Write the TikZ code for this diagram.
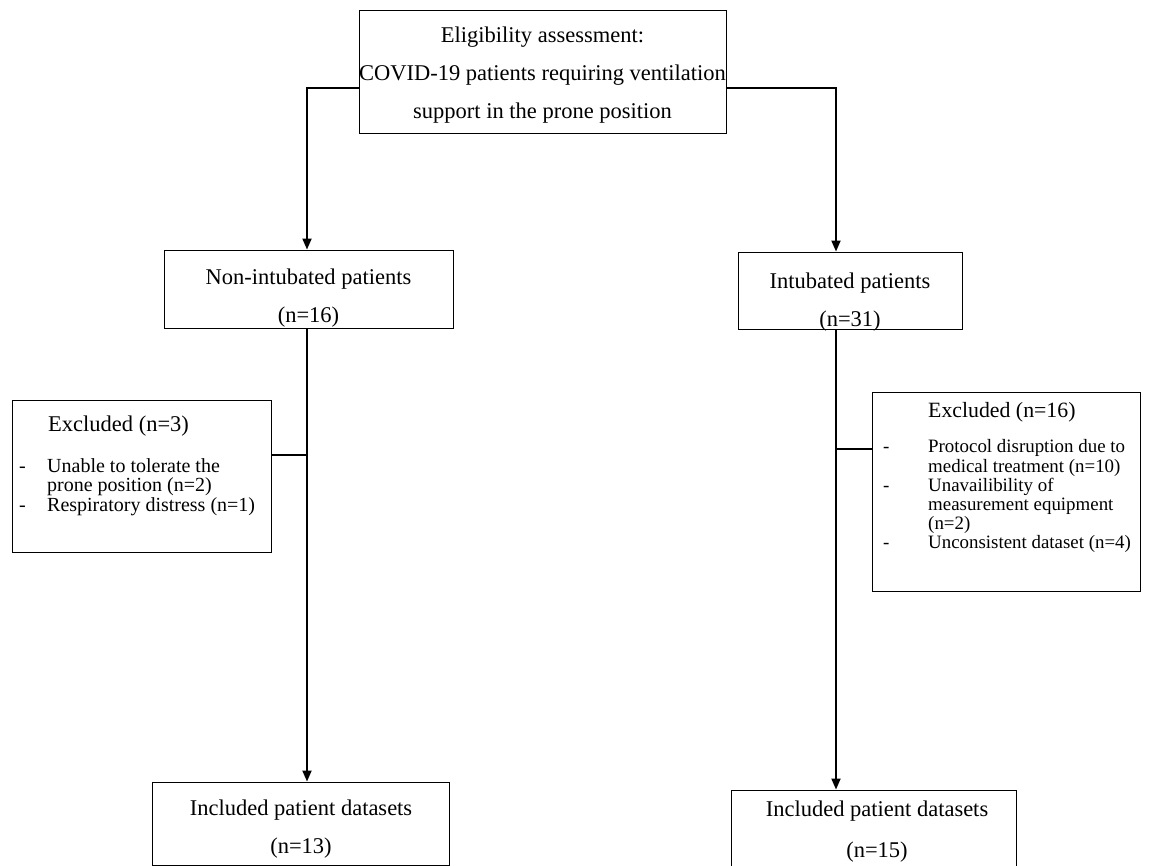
\documentclass[tikz,border=0pt]{standalone}
\usepackage{fontspec}
\setmainfont{Liberation Serif}
\usetikzlibrary{arrows.meta,calc}
\tikzset{
  frame/.style={draw=black,line width=.9pt,inner sep=0pt},
  link/.style={draw=black,line width=1.9pt},
  linkarrow/.style={link,-{Triangle[length=11pt,width=9pt]}},
  boxtext/.style={font=\fontsize{22.5}{38}\selectfont,align=center,inner sep=0pt},
  headtext/.style={font=\fontsize{22.5}{26}\selectfont,inner sep=0pt,anchor=base west},
  listtext/.style={font=\fontsize{20}{19.5}\selectfont,inner sep=0pt,anchor=base west}
}
% box from its corners: name, x1, y1, x2, y2
\newcommand{\FrameBox}[5]{%
  \node[frame,minimum width={#4-#2},minimum height={#5-#3}] (#1)
    at ({(#2+#4)/2},{(#3+#5)/2}) {};
}

\begin{document}
\begin{tikzpicture}[x=1pt,y=-1pt]
  \useasboundingbox (0,0) rectangle (1149,866);
  \FrameBox{elig}{359}{10}{726}{133}
  \FrameBox{nonint}{164}{250}{453}{328}
  \FrameBox{intub}{738}{252}{962}{329}
  \FrameBox{exclA}{12}{400}{271}{552}
  \FrameBox{exclB}{872}{392}{1140}{591}
  \FrameBox{inclA}{152}{782}{449}{865}
  \FrameBox{inclB}{731}{790}{1016}{866}

  \node[boxtext] (elig-text) at (542.5,75)
    {Eligibility assessment:\\COVID-19 patients requiring ventilation\\support in the prone position};
  \node[boxtext] (nonint-text) at (308.5,298) {Non-intubated patients\\(n=16)};
  \node[boxtext] (intub-text) at (850,302) {Intubated patients\\(n=31)};
  \node[boxtext] (inclA-text) at (301,829) {Included patient datasets\\(n=13)};
  \node[boxtext,font=\fontsize{22.5}{41}\selectfont] (inclB-text) at (877,832)
    {Included patient datasets\\(n=15)};

  \node[headtext] (exclA-head) at (48,432) {Excluded (n=3)};
  \node[listtext] (exclA-list) at (19,472) {\begin{tabular}[t]{@{}p{28pt}@{}l@{}}
    - & Unable to tolerate the\\
      & prone position (n=2)\\
    - & Respiratory distress (n=1)
  \end{tabular}};
  \node[headtext,font=\fontsize{21.8}{26}\selectfont] (exclB-head) at (928,418) {Excluded (n=16)};
  \node[listtext,font=\fontsize{18.9}{19.2}\selectfont] (exclB-list) at (883,453)
    {\begin{tabular}[t]{@{}p{45pt}@{}l@{}}
    - & Protocol disruption due to\\
      & medical treatment (n=10)\\
    - & Unavailibility of\\
      & measurement equipment\\
      & (n=2)\\
    - & Unconsistent dataset (n=4)
  \end{tabular}};

  % connectors
  \coordinate (kl) at (307,88);
  \coordinate (kr) at (836,88);
  \coordinate (ja) at (307,455);
  \coordinate (jb) at (836,449);
  \draw[linkarrow] (elig.west |- kl) -- (kl) -- (kl |- nonint.north);
  \draw[linkarrow] (elig.east |- kr) -- (kr) -- (kr |- intub.north);
  \draw[linkarrow] (kl |- nonint.south) -- (kl |- inclA.north);
  \draw[linkarrow] (kr |- intub.south) -- (kr |- inclB.north);
  \draw[link] (exclA.east |- ja) -- (ja);
  \draw[link] (jb) -- (exclB.west |- jb);
\end{tikzpicture}
\end{document}
